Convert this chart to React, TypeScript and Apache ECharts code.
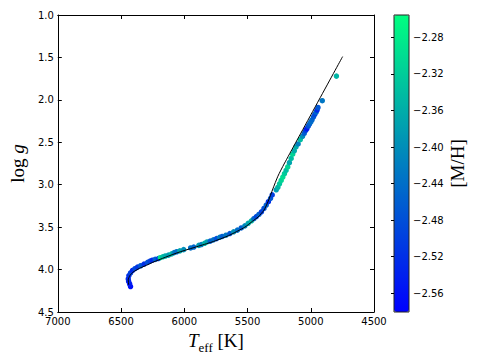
import React, { useEffect, useRef } from 'react';
import * as echarts from 'echarts';

// Isochrone (black line)
const isoTeff = [6440, 6443, 6430, 6405, 6354, 6300, 6250, 6150, 6041, 5900, 5781, 5650, 5521, 5460, 5416, 5370, 5338, 5300, 5260, 5211, 4748];
const isoLogg = [4.18, 4.12, 4.07, 4.03, 3.985, 3.95, 3.915, 3.855, 3.795, 3.73, 3.675, 3.6, 3.5, 3.43, 3.38, 3.3, 3.2, 3.05, 2.9, 2.756, 1.49];

// Stars (scatter)
const starTeff = [6425, 6432, 6440, 6443, 6438, 6425, 6409, 6390, 6370, 6345, 6318, 6290, 6270, 6252, 6230, 6205, 6190, 6170, 6150, 6125, 6100, 6080, 6060, 6035, 6005, 5950, 5925, 5885, 5865, 5840, 5820, 5795, 5770, 5745, 5720, 5700, 5670, 5640, 5610, 5580, 5550, 5521, 5495, 5469, 5450, 5430, 5410, 5390, 5370, 5352, 5335, 5318, 5305, 5273, 5260, 5247, 5234, 5221, 5208, 5195, 5182, 5169, 5155, 5143, 5130, 5117, 5100, 5083, 5065, 5052, 5040, 5031, 5020, 5010, 5000, 4990, 4978, 4968, 4958, 4950, 4943, 4909, 4797];
const starLogg = [4.2, 4.17, 4.14, 4.11, 4.07, 4.04, 4.01, 3.99, 3.97, 3.955, 3.935, 3.915, 3.9, 3.89, 3.88, 3.87, 3.86, 3.85, 3.84, 3.83, 3.815, 3.8, 3.79, 3.78, 3.765, 3.745, 3.735, 3.715, 3.705, 3.69, 3.675, 3.665, 3.65, 3.635, 3.62, 3.61, 3.595, 3.575, 3.555, 3.535, 3.51, 3.485, 3.455, 3.425, 3.4, 3.375, 3.35, 3.32, 3.28, 3.24, 3.2, 3.16, 3.12, 3.06, 3.03, 2.99, 2.95, 2.91, 2.87, 2.83, 2.79, 2.74, 2.69, 2.64, 2.6, 2.555, 2.52, 2.47, 2.43, 2.395, 2.36, 2.34, 2.31, 2.285, 2.26, 2.235, 2.2, 2.17, 2.145, 2.12, 2.09, 2.01, 1.72];
const starMH = [-2.56, -2.55, -2.54, -2.53, -2.52, -2.5, -2.53, -2.49, -2.51, -2.47, -2.52, -2.48, -2.5, -2.53, -2.46, -2.51, -2.3, -2.34, -2.36, -2.38, -2.35, -2.42, -2.44, -2.37, -2.4, -2.44, -2.45, -2.38, -2.42, -2.36, -2.37, -2.46, -2.44, -2.48, -2.42, -2.46, -2.43, -2.47, -2.4, -2.44, -2.46, -2.41, -2.37, -2.35, -2.45, -2.49, -2.46, -2.5, -2.48, -2.46, -2.52, -2.47, -2.5, -2.38, -2.35, -2.33, -2.31, -2.3, -2.32, -2.34, -2.31, -2.37, -2.34, -2.31, -2.36, -2.36, -2.42, -2.34, -2.4, -2.46, -2.5, -2.55, -2.48, -2.46, -2.44, -2.45, -2.47, -2.49, -2.45, -2.53, -2.47, -2.43, -2.35];

const colorbarTicks = [-2.56, -2.52, -2.48, -2.44, -2.4, -2.36, -2.32, -2.28];
const mhMin = -2.5805;
const mhMax = -2.2556;

export default function App() {
  const ref = useRef<HTMLDivElement>(null);
  useEffect(() => {
    const chart = echarts.init(ref.current!, null, { renderer: 'svg' });
    const tickFont = { fontFamily: 'DejaVu Sans', fontSize: 10, color: '#000' };
    const axisLine = { show: true, onZero: false, lineStyle: { color: '#000', width: 1 } };
    const tick = { show: true, inside: true, length: 4, lineStyle: { color: '#000', width: 1 } };
    const serif = 'Liberation Serif';
    chart.setOption({
      animation: false,
      backgroundColor: '#fff',
      grid: [
        { left: 54, top: 15, right: 106, bottom: 48 },
        { left: 394, top: 15, width: 15, height: 297, show: true, borderColor: '#222', borderWidth: 1, backgroundColor: 'transparent', z: 10 },
      ],
      xAxis: [
        {
          gridIndex: 0, type: 'value', min: 4500, max: 7000, interval: 500, inverse: true, position: 'bottom',
          axisLine, axisTick: tick, splitLine: { show: false },
          axisLabel: { ...tickFont, margin: 4, formatter: (v: number) => String(v) },
          name: '{i|T}{s|eff}{r| [K]}', nameLocation: 'middle', nameGap: 11,
          nameTextStyle: {
            rich: {
              i: { fontFamily: serif, fontStyle: 'italic', fontSize: 19, color: '#000', verticalAlign: 'bottom', padding: [0, 0, 4, 0] },
              s: { fontFamily: serif, fontSize: 13, color: '#000', verticalAlign: 'bottom' },
              r: { fontFamily: serif, fontSize: 19, color: '#000', verticalAlign: 'bottom', padding: [0, 0, 4, 0] },
            },
          },
        },
        {
          gridIndex: 0, type: 'value', min: 4500, max: 7000, interval: 500, inverse: true, position: 'top',
          axisLine, axisTick: tick, axisLabel: { show: false }, splitLine: { show: false },
        },
        { gridIndex: 1, type: 'value', min: 0, max: 1, show: false },
      ],
      yAxis: [
        {
          gridIndex: 0, type: 'value', min: 1, max: 4.5, interval: 0.5, inverse: true, position: 'left',
          axisLine, axisTick: tick, splitLine: { show: false },
          axisLabel: { ...tickFont, margin: 4, formatter: (v: number) => v.toFixed(1) },
          name: '{r|log}{i| g}', nameLocation: 'middle', nameGap: 20, nameRotate: 90,
          nameTextStyle: {
            rich: {
              r: { fontFamily: serif, fontSize: 19, color: '#000' },
              i: { fontFamily: serif, fontStyle: 'italic', fontSize: 19, color: '#000' },
            },
          },
        },
        {
          gridIndex: 0, type: 'value', min: 1, max: 4.5, interval: 0.5, inverse: true, position: 'right',
          axisLine, axisTick: tick, axisLabel: { show: false }, splitLine: { show: false },
        },
        {
          gridIndex: 1, type: 'value', min: mhMin, max: mhMax, position: 'right', z: 10,
          axisLine: { show: false },
          axisTick: { show: true, inside: true, length: 3, customValues: colorbarTicks, lineStyle: { color: '#000' } },
          axisLabel: {
            ...tickFont, margin: 4, customValues: colorbarTicks,
            formatter: (v: number) => v.toFixed(2).replace('-', '\u2212'),
          },
          splitLine: { show: false },
          name: '[M/H]', nameLocation: 'middle', nameGap: 38, nameRotate: 90,
          nameTextStyle: { fontFamily: serif, fontSize: 19, color: '#000' },
        },
      ],
      visualMap: {
        type: 'continuous', min: mhMin, max: mhMax, dimension: 2, seriesIndex: 0,
        inRange: { color: ['#0000ff', '#00ff80'] },
        left: 394, top: 15, itemWidth: 15, itemHeight: 297, padding: 0,
        calculable: false, orient: 'vertical', hoverLink: false,
      },
      series: [
        {
          type: 'scatter', xAxisIndex: 0, yAxisIndex: 0,
          data: starTeff.map((t, i) => [t, starLogg[i], starMH[i]]),
          symbolSize: 5.5, itemStyle: { opacity: 1 }, z: 2,
        },
        {
          type: 'line', xAxisIndex: 0, yAxisIndex: 0,
          data: isoTeff.map((t, i) => [t, isoLogg[i]]),
          showSymbol: false, smooth: 0.2, lineStyle: { color: '#000', width: 1 }, z: 3,
        },
      ],
    });
    return () => chart.dispose();
  }, []);
  return <div ref={ref} style={{ position: 'fixed', left: 0, top: 0, width: 480, height: 360 }} />;
}
